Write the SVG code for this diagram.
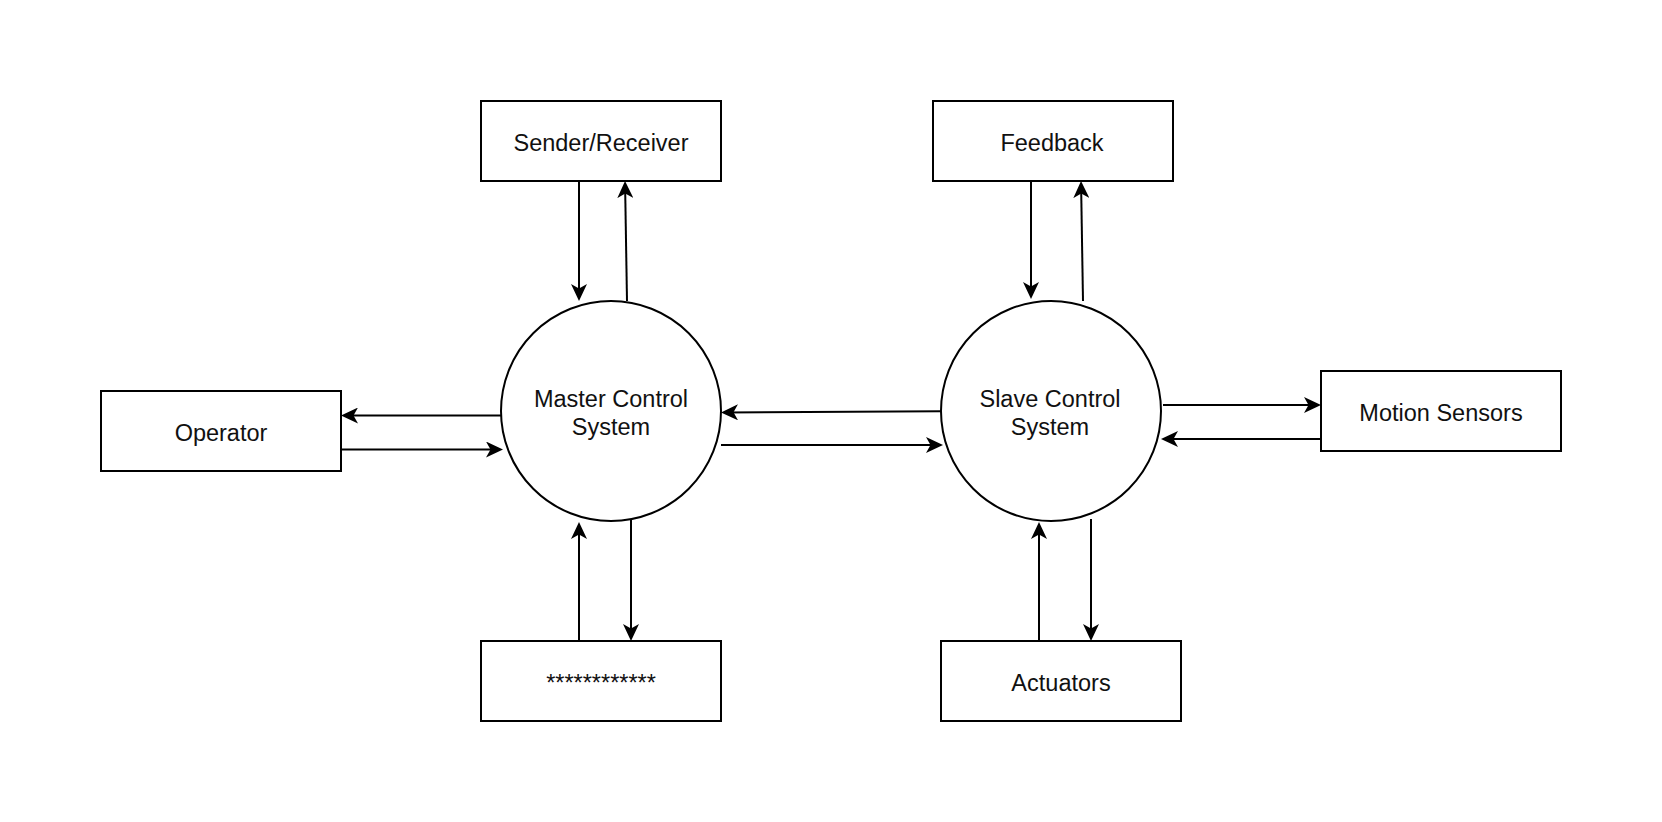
<svg xmlns="http://www.w3.org/2000/svg" width="1662" height="822" viewBox="0 0 1662 822">
<style>
.box{fill:#fff;stroke:#000;stroke-width:2}
.circ{fill:#fff;stroke:#000;stroke-width:2}
.lbl{font-family:"Liberation Sans",Arial,sans-serif;font-size:23.5px;fill:#111;text-anchor:middle}
.edge{fill:none;stroke:#000;stroke-width:2}
</style>
<defs>
<marker id="arr" markerUnits="userSpaceOnUse" viewBox="0 0 17 16" refX="13" refY="8" markerWidth="17" markerHeight="16" orient="auto">
<path d="M0,0 L17,8 L0,16 L4.5,8 Z" fill="#000"/>
</marker>
</defs>
<rect width="1662" height="822" fill="#fff"/>
<g id="master">
<circle class="circ" cx="611" cy="411" r="110"/>
<text class="lbl" x="611" y="407">Master Control</text>
<text class="lbl" x="611" y="434.5">System</text>
</g>
<g id="slave">
<circle class="circ" cx="1051" cy="411" r="110"/>
<text class="lbl" x="1050" y="407">Slave Control</text>
<text class="lbl" x="1050" y="434.5">System</text>
</g>
<g id="sender">
<rect class="box" x="481" y="101" width="240" height="80"/>
<text class="lbl" x="601" y="151">Sender/Receiver</text>
</g>
<g id="feedback">
<rect class="box" x="933" y="101" width="240" height="80"/>
<text class="lbl" x="1052" y="151">Feedback</text>
</g>
<g id="operator">
<rect class="box" x="101" y="391" width="240" height="80"/>
<text class="lbl" x="221" y="441">Operator</text>
</g>
<g id="motion">
<rect class="box" x="1321" y="371" width="240" height="80"/>
<text class="lbl" x="1441" y="421">Motion Sensors</text>
</g>
<g id="stars">
<rect class="box" x="481" y="641" width="240" height="80"/>
<text class="lbl" x="601" y="691">************</text>
</g>
<g id="actuators">
<rect class="box" x="941" y="641" width="240" height="80"/>
<text class="lbl" x="1061" y="691">Actuators</text>
</g>
<g id="connectors">
<path class="edge" d="M579,181 L579,297" marker-end="url(#arr)"/>
<path class="edge" d="M627,301 L625.1,185" marker-end="url(#arr)"/>
<path class="edge" d="M1031,181 L1031,295" marker-end="url(#arr)"/>
<path class="edge" d="M1083,301 L1081.1,185" marker-end="url(#arr)"/>
<path class="edge" d="M501,415.5 L345,415.5" marker-end="url(#arr)"/>
<path class="edge" d="M341,449.5 L499,449.5" marker-end="url(#arr)"/>
<path class="edge" d="M941,411.3 L725,412.4" marker-end="url(#arr)"/>
<path class="edge" d="M721,445 L939,445" marker-end="url(#arr)"/>
<path class="edge" d="M1163,405 L1317,405" marker-end="url(#arr)"/>
<path class="edge" d="M1321,439 L1165,439" marker-end="url(#arr)"/>
<path class="edge" d="M579,641 L579,526" marker-end="url(#arr)"/>
<path class="edge" d="M631,520 L631,637" marker-end="url(#arr)"/>
<path class="edge" d="M1039,641 L1039,526" marker-end="url(#arr)"/>
<path class="edge" d="M1091,519 L1091,637" marker-end="url(#arr)"/>
</g>
</svg>
